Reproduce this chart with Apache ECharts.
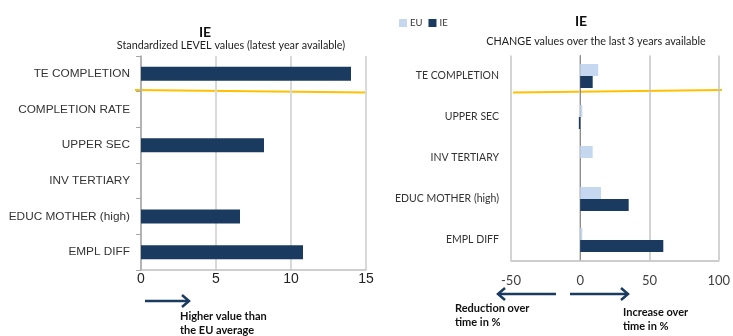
<!DOCTYPE html>
<html>
<head>
<meta charset="utf-8">
<script src="https://cdn.jsdelivr.net/npm/echarts@6/dist/echarts.min.js"></script>
<style>
  html, body { margin: 0; padding: 0; background: #fff; }
  #chart { width: 733px; height: 336px; }
</style>
</head>
<body>
<div id="chart"></div>
<script>
// Left panel: standardized level values (latest year available)
var levelCategories = ['TE COMPLETION', 'COMPLETION RATE', 'UPPER SEC', 'INV TERTIARY', 'EDUC MOTHER (high)', 'EMPL DIFF'];
var levelIE = [14.0, null, 8.2, null, 6.6, 10.8];
var levelTicks = [0, 5, 10, 15];

// Right panel: change values over the last 3 years available
var changeCategories = ['TE COMPLETION', 'UPPER SEC', 'INV TERTIARY', 'EDUC MOTHER (high)', 'EMPL DIFF'];
var changeEU = [13, 1.5, 9, 15, 1.5];
var changeIE = [9, -1, null, 35, 60];
var changeTicks = [-50, 0, 50, 100];

var NAVY = '#1B3A5F';
var LIGHT = '#C5D8EF';
var GOLD = '#FFC000';
var BODY_FONT = 'Lato, "Open Sans", sans-serif';
var ARIAL = '"Liberation Sans", Arial, sans-serif';

function arrow(x1, x2, y) {
  var dir = x2 > x1 ? 1 : -1;
  return [
    { type: 'line', shape: { x1: x1, y1: y, x2: x2, y2: y },
      style: { stroke: NAVY, lineWidth: 2.5 } },
    { type: 'polyline', shape: { points: [[x2 - dir * 7, y - 6], [x2, y], [x2 - dir * 7, y + 6]] },
      style: { stroke: NAVY, lineWidth: 2.5, fill: null } }
  ];
}

var chart = echarts.init(document.getElementById('chart'), null, { renderer: 'canvas' });

var option = {
  animation: false,
  backgroundColor: '#fff',
  title: [
    { text: 'IE', left: 200, top: 20, textAlign: 'center',
      textStyle: { fontFamily: BODY_FONT, fontWeight: 'bold', fontSize: 14, color: '#111' } },
    { text: 'Standardized LEVEL values (latest year available)', left: 226, top: 35, textAlign: 'center',
      textStyle: { fontFamily: BODY_FONT, fontWeight: 'normal', fontSize: 10.8, color: '#222' } },
    { text: 'IE', left: 576, top: 9, textAlign: 'center',
      textStyle: { fontFamily: BODY_FONT, fontWeight: 'bold', fontSize: 14, color: '#111' } },
    { text: 'CHANGE values over the last 3 years available', left: 591, top: 31, textAlign: 'center',
      textStyle: { fontFamily: BODY_FONT, fontWeight: 'normal', fontSize: 10.8, color: '#222' } }
  ],
  legend: {
    left: 394, top: 13,
    itemWidth: 8, itemHeight: 8, itemGap: 6,
    icon: 'rect',
    data: ['EU', 'IE'],
    textStyle: { fontFamily: BODY_FONT, fontSize: 9.5, color: '#333', padding: [0, 0, 0, -2] }
  },
  grid: [
    { left: 141, right: 367, top: 56, bottom: 66 },
    { left: 511, right: 10, top: 55.5, bottom: 75.5 }
  ],
  xAxis: [
    { gridIndex: 0, type: 'value', min: levelTicks[0], max: levelTicks[levelTicks.length - 1], interval: 5,
      axisLine: { show: true, lineStyle: { color: '#BFBFBF', width: 1.5 } },
      axisTick: { show: false },
      axisLabel: { fontFamily: ARIAL, fontSize: 14, color: '#222', margin: 2 },
      splitLine: { show: true, lineStyle: { color: '#D9D9D9', width: 2 } } },
    { gridIndex: 1, type: 'value', min: changeTicks[0], max: changeTicks[changeTicks.length - 1], interval: 50,
      axisLine: { show: true, onZero: false, lineStyle: { color: '#BDBDBD', width: 1.5 } },
      axisTick: { show: false },
      axisLabel: { fontFamily: BODY_FONT, fontSize: 13, color: '#404040', margin: 14 },
      splitLine: { show: true, lineStyle: { color: '#C4C4C4', width: 1.5 } } }
  ],
  yAxis: [
    { gridIndex: 0, type: 'category', inverse: true, data: levelCategories,
      axisLine: { show: true, lineStyle: { color: '#A6A6A6', width: 1.5 } },
      axisTick: { show: true, length: 5, lineStyle: { color: '#A6A6A6' } },
      axisLabel: { fontFamily: ARIAL, fontSize: 11.8, color: '#333', margin: 11 } },
    { gridIndex: 1, type: 'category', inverse: true, data: changeCategories,
      axisLine: { show: true, onZero: true, lineStyle: { color: '#8C8C8C', width: 1 } },
      axisTick: { show: false },
      axisLabel: { fontFamily: BODY_FONT, fontSize: 10.5, color: '#333', margin: 12 } }
  ],
  series: [
    { name: 'IE level', type: 'bar', xAxisIndex: 0, yAxisIndex: 0, data: levelIE,
      barWidth: 14, itemStyle: { color: NAVY }, silent: true },
    { name: 'EU', type: 'bar', xAxisIndex: 1, yAxisIndex: 1, data: changeEU,
      barWidth: 12, barGap: '0%', itemStyle: { color: LIGHT } },
    { name: 'IE', type: 'bar', xAxisIndex: 1, yAxisIndex: 1, data: changeIE,
      barWidth: 12, barGap: '0%', itemStyle: { color: NAVY } }
  ],
  graphic: [].concat(
    [
      // highlight rules under the first category of each panel
      { type: 'line', shape: { x1: 135, y1: 90, x2: 366, y2: 92.5 },
        style: { stroke: GOLD, lineWidth: 2.2 } },
      { type: 'line', shape: { x1: 513, y1: 92.5, x2: 722, y2: 90 },
        style: { stroke: GOLD, lineWidth: 2.2 } }
    ],
    arrow(145, 189, 301),
    arrow(556, 498, 294),
    arrow(570, 628, 294),
    [
      { type: 'text', left: 180, top: 310,
        style: { text: 'Higher value than\nthe EU average', font: 'bold 11px ' + BODY_FONT, fill: '#111', lineHeight: 13.5 } },
      { type: 'text', left: 455, top: 302,
        style: { text: 'Reduction over\ntime in %', font: 'bold 11px ' + BODY_FONT, fill: '#111', lineHeight: 13.5 } },
      { type: 'text', left: 623, top: 306,
        style: { text: 'Increase over\ntime in %', font: 'bold 11px ' + BODY_FONT, fill: '#111', lineHeight: 13.5 } }
    ]
  )
};

chart.setOption(option);
</script>
</body>
</html>
